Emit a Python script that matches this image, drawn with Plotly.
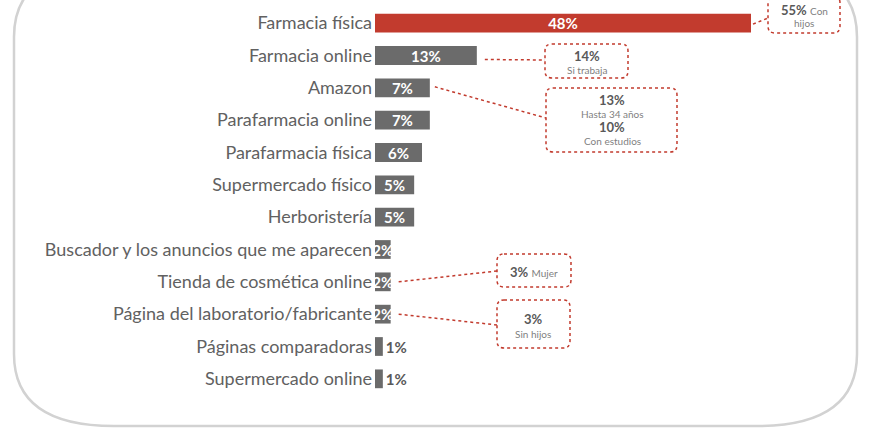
import plotly.graph_objects as go

categories = ["Farmacia física", "Farmacia online", "Amazon", "Parafarmacia online",
              "Parafarmacia física", "Supermercado físico", "Herboristería",
              "Buscador y los anuncios que me aparecen", "Tienda de cosmética online",
              "Página del laboratorio/fabricante", "Páginas comparadoras", "Supermercado online"]
values = [48, 13, 7, 7, 6, 5, 5, 2, 2, 2, 1, 1]

# categories that carry a callout
callout_cats = ["Farmacia física", "Farmacia online", "Amazon", "Tienda de cosmética online",
                "Página del laboratorio/fabricante"]

RED = "#C23B2E"
GRAY = "#6B6B6B"
TXT = "#595959"
LBL = "#616161"
SUB = "#7F7F7F"
FONT = "Lato"

W, H = 871, 438
L, R, T, B = 375, 26, 7, 43
PW, PH = W - L - R, H - T - B
XMAX = 60


def px(x):
    return (x - L) / PW


def py(y):
    return (H - B - y) / PH


def val_px(v):
    return L + v * PW / XMAX


def row_px(i):
    return T + (i + 0.5) * PH / len(categories)


colors = [RED if i == 0 else GRAY for i in range(len(values))]
textpos = ["inside" if v >= 2 else "outside" for v in values]

fig = go.Figure(go.Bar(
    y=categories, x=values, orientation="h",
    marker=dict(color=colors, line=dict(width=0)),
    width=0.58,
    text=[f"<b>{v}%</b>" for v in values],
    textposition=textpos,
    textangle=0,
    insidetextanchor="middle",
    constraintext="none",
    cliponaxis=False,
    insidetextfont=dict(color="white", size=15, family=FONT),
    outsidetextfont=dict(color=TXT, size=15, family=FONT),
    hoverinfo="skip",
))


def rrect(x0, y0, x1, y1, rx, ry):
    def P(x, y):
        return f"{px(x):.5f},{py(y):.5f}"
    return (f"M {P(x0 + rx, y0)} L {P(x1 - rx, y0)} Q {P(x1, y0)} {P(x1, y0 + ry)} "
            f"L {P(x1, y1 - ry)} Q {P(x1, y1)} {P(x1 - rx, y1)} "
            f"L {P(x0 + rx, y1)} Q {P(x0, y1)} {P(x0, y1 - ry)} "
            f"L {P(x0, y0 + ry)} Q {P(x0, y0)} {P(x0 + rx, y0)} Z")


shapes = []
# outer frame
shapes.append(dict(type="path", xref="paper", yref="paper",
                   path=rrect(14, -35, 857, 426, 100, 72),
                   line=dict(color="#D2D2D2", width=2.5), layer="below"))

dot = dict(color=RED, width=1.5, dash="dot")
boxes = [(768, -4, 840, 33), (545, 44, 628, 78), (546, 88, 677, 152),
         (497, 254, 571, 287), (497, 300, 570, 348)]
for (x0, y0, x1, y1) in boxes:
    shapes.append(dict(type="path", xref="paper", yref="paper",
                       path=rrect(x0, y0, x1, y1, 7, 7), line=dot))

# connectors from bar ends to boxes
conn = [(768, 18, 2, 1), (545, 60, 8, 4), (546, 118, 5, -1), (497, 271, 8, 0), (497, 325, 8, 0)]
for cat, (tx, ty, gx, gy) in zip(callout_cats, conn):
    i = categories.index(cat)
    sx = val_px(values[i]) + gx
    sy = row_px(i) + gy
    shapes.append(dict(type="line", xref="paper", yref="paper",
                       x0=px(sx), y0=py(sy), x1=px(tx), y1=py(ty), line=dot))

annots = []


def note(x, y, text, size):
    annots.append(dict(x=px(x), y=py(y), xref="paper", yref="paper", text=text,
                       showarrow=False, xanchor="center", yanchor="middle",
                       font=dict(family=FONT, size=size, color=TXT)))


note(804, 10, f"<b>55%</b> <span style='font-size:10px;color:{SUB}'>Con</span>", 13)
note(804, 23, f"<span style='color:{SUB}'>hijos</span>", 10)
note(587, 56, "<b>14%</b>", 13)
note(587, 70, f"<span style='color:{SUB}'>Si trabaja</span>", 10)
note(612, 100, "<b>13%</b>", 13)
note(612, 114, f"<span style='color:{SUB}'>Hasta 34 años</span>", 10)
note(612, 127, "<b>10%</b>", 13)
note(612, 141, f"<span style='color:{SUB}'>Con estudios</span>", 10)
note(534, 272, f"<b>3%</b> <span style='font-size:10px;color:{SUB}'>Mujer</span>", 13)
note(533, 319, "<b>3%</b>", 13)
note(533, 334, f"<span style='color:{SUB}'>Sin hijos</span>", 10)

fig.update_layout(
    width=W, height=H,
    margin=dict(l=L, r=R, t=T, b=B),
    paper_bgcolor="white", plot_bgcolor="white",
    showlegend=False,
    xaxis=dict(range=[0, XMAX], visible=False, fixedrange=True),
    yaxis=dict(autorange="reversed", showgrid=False, zeroline=False, showline=False,
               ticks="", ticklabelstandoff=2, fixedrange=True,
               tickfont=dict(family=FONT, size=18, color=LBL)),
    shapes=shapes, annotations=annots,
)

fig.write_html("out.html", config={"displayModeBar": False},
               post_script="document.body.style.margin='0';document.body.style.overflow='hidden';")
